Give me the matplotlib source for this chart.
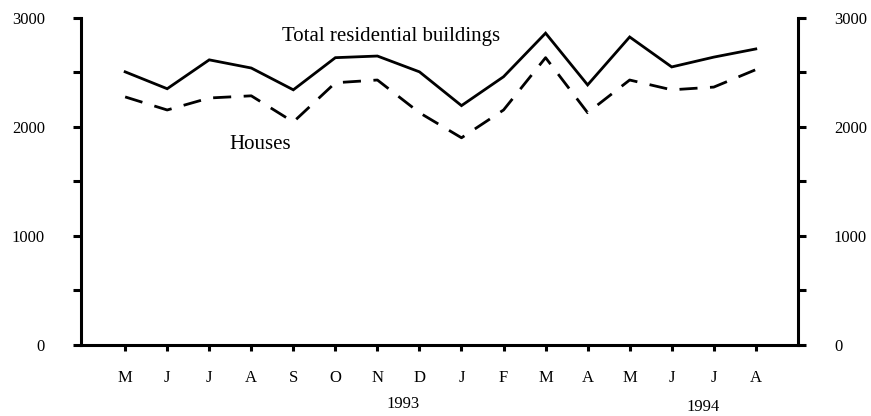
import matplotlib
matplotlib.use("Agg")
import matplotlib.pyplot as plt
from matplotlib.ticker import MultipleLocator
from matplotlib.transforms import blended_transform_factory

months = ["M", "J", "J", "A", "S", "O", "N", "D", "J", "F", "M", "A", "M", "J", "J", "A"]
total = [2505, 2350, 2615, 2540, 2340, 2635, 2650, 2505, 2195, 2460, 2860, 2385, 2825, 2550, 2640, 2715]
houses = [2275, 2155, 2265, 2285, 2045, 2405, 2430, 2130, 1900, 2155, 2635, 2130, 2430, 2340, 2365, 2525]
years = ["1993", "1994"]
yticks = [0, 1000, 2000, 3000]

plt.rcParams["font.family"] = ["Liberation Serif", "DejaVu Serif"]

fig = plt.figure(figsize=(8.71, 4.16), dpi=100)
ax = fig.add_axes([0.093, 0.171, 0.823, 0.786])
x = list(range(len(months)))
ax.plot(x, total, color="black", lw=2.0, solid_joinstyle="miter")
ax.plot(x, houses, color="black", lw=2.0, dashes=(6.5, 4.5))

ax.set_xlim(-1.05, 16)
ax.set_ylim(0, 3000)
ax.set_xticks(x)
ax.set_xticklabels(months, fontsize=12)
ax.set_yticks(yticks)
ax.set_yticklabels([str(v) for v in yticks], fontsize=12)
ax.yaxis.set_minor_locator(MultipleLocator(500))

ax.spines["top"].set_visible(False)
for s in ["left", "right", "bottom"]:
    ax.spines[s].set_linewidth(2.2)

ax.tick_params(axis="y", which="both", direction="out", length=6, width=2.2,
               left=True, right=True, labelleft=True, labelright=True)
ax.tick_params(axis="y", which="major", pad=20)
ax.tick_params(axis="x", direction="out", length=4, width=2.2, pad=14)

ax.text(6.33, 2826, "Total residential buildings", fontsize=15, ha="center", va="center")
ax.text(3.21, 1835, "Houses", fontsize=15, ha="center", va="center")

tr = blended_transform_factory(ax.transData, fig.transFigure)
ax.text(6.6, 0.028, years[0], fontsize=12, ha="center", va="center", transform=tr)
ax.text(13.74, 0.022, years[1], fontsize=12, ha="center", va="center", transform=tr)

fig.savefig("out.png", dpi=100)
